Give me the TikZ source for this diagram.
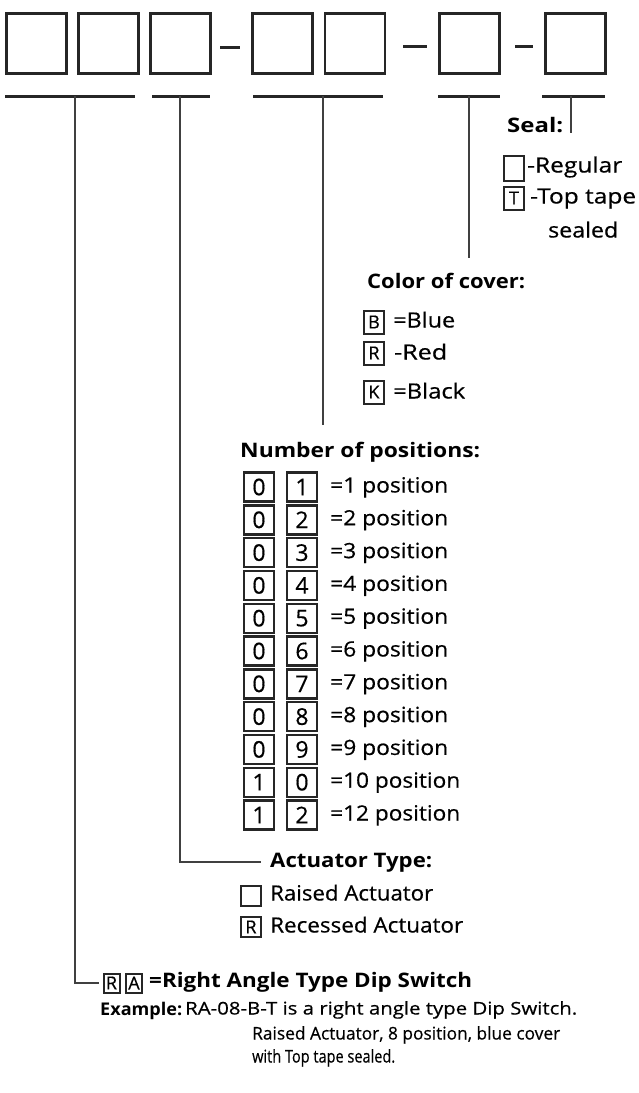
\documentclass[tikz,border=0pt]{standalone}
\usepackage{fontspec}
\setmainfont{Open Sans}
\newfontfamily\heavyreg[FakeBold=0.5]{Open Sans}
\newcommand{\fitw}[2]{\resizebox{#1}{\height}{#2}}
\begin{document}
\begin{tikzpicture}[x=1pt,y=-1pt,
  bigbox/.style={draw=black!85, line width=2.6pt, minimum width=60pt, minimum height=60pt, inner sep=0pt},
  kbox/.style={draw=black!85, line width=2pt, inner sep=0pt, font=\heavyreg\fontsize{18}{18}\selectfont},
  nbox/.style={kbox, line width=2.4pt, minimum width=30pt, minimum height=29pt, font=\heavyreg\fontsize{23}{23}\selectfont},
  sbox/.style={kbox, minimum width=20pt, minimum height=23pt},
  lbl/.style={anchor=west, inner sep=0pt, text height=15pt, text depth=4pt, font=\heavyreg\fontsize{21}{21}\selectfont},
  slbl/.style={lbl, font=\heavyreg\fontsize{21}{21}\selectfont},
  head/.style={lbl, font=\bfseries\fontsize{20}{20}\selectfont},
  exl/.style={lbl, text height=13pt, font=\heavyreg\fontsize{17.5}{17.5}\selectfont},
  uline/.style={line width=3pt, black!85},
  conn/.style={line width=2pt, black!75},
]
\useasboundingbox (0,0) rectangle (639,1093);
% top code boxes
\node[bigbox] (b1) at (36.5,43.5) {};
\node[bigbox] (b2) at (108.5,43.5) {};
\node[bigbox] (b3) at (180.5,43.5) {};
\node[bigbox] (b4) at (282.5,43.5) {};
\node[bigbox] (b5) at (355,43.5) {};
\node[bigbox] (b6) at (469.5,43.5) {};
\node[bigbox] (b7) at (575.5,43.5) {};
\draw[uline] (220,47) -- (240,47);
\draw[uline] (403,46) -- (427,46);
\draw[uline] (515,46) -- (533,46);
% underlines
\draw[uline] (5,96) -- (135,96);
\draw[uline] (152,96) -- (210,96);
\draw[uline] (253,96) -- (383,96);
\draw[uline] (438,96) -- (500,96);
\draw[uline] (542,96) -- (605,96);
\coordinate (t1) at (75,96);
\coordinate (t2) at (180,96);
\coordinate (t3) at (323,96);
\coordinate (t4) at (469,96);
\coordinate (t5) at (571,96);
\coordinate (e3) at (323,425);
\coordinate (e4) at (469,258);
\coordinate (e5) at (571,133);
% Seal
\node[head] (sealh) at (507,127) {\fitw{56pt}{Seal:}};
\node[sbox, minimum height=25pt] (s1) at (514,168.5) {};
\node[slbl] (s1t) at (527,167) {\fitw{95pt}{-Regular}};
\node[sbox] (s2) at (514,198) {T};
\node[slbl] (s2t) at (530,198) {\fitw{106pt}{-Top tape}};
\node[slbl] (s3t) at (548,232) {\fitw{70pt}{sealed}};
% Color of cover
\node[head] (colh) at (367,283) {\fitw{158pt}{Color of cover:}};
\node[sbox] (cB) at (374,322) {B};
\node[lbl] (cBt) at (393,322) {\fitw{62pt}{=Blue}};
\node[sbox] (cR) at (374,353) {R};
\node[lbl] (cRt) at (394,354) {\fitw{53pt}{-Red}};
\node[sbox] (cK) at (374,392) {K};
\node[lbl] (cKt) at (393,393) {\fitw{72pt}{=Black}};
% Number of positions
\node[head] (numh) at (240,452) {\fitw{240pt}{Number of positions:}};
\foreach \a/\b/\t/\w [count=\i] in {0/1/=1 position/118,0/2/=2 position/118,0/3/=3 position/118,0/4/=4 position/118,0/5/=5 position/118,0/6/=6 position/118,0/7/=7 position/118,0/8/=8 position/118,0/9/=9 position/118,1/0/=10 position/130,1/2/=12 position/130}{
  \node[nbox] (na\i) at (259,{487+32.8*(\i-1)}) {\a};
  \node[nbox] (nb\i) at (302,{487+32.8*(\i-1)}) {\b};
  \node[lbl] (nt\i) at (330,{487+32.8*(\i-1)}) {\fitw{\w pt}{\t}};
}
% Actuator type
\node[head] (acth) at (270,862) {\fitw{162pt}{Actuator Type:}};
\node[sbox, minimum height=20pt] (a1) at (251,895.5) {};
\node[lbl] (a1t) at (270,895) {\fitw{163pt}{Raised Actuator}};
\node[sbox, minimum height=20pt] (a2) at (251,927) {R};
\node[lbl] (a2t) at (270,927) {\fitw{193pt}{Recessed Actuator}};
% Right angle
\node[kbox, minimum width=16pt, minimum height=19pt] (ra1) at (111.5,983) {R};
\node[kbox, minimum width=16pt, minimum height=19pt] (ra2) at (134,983) {A};
\node[head] (rat) at (149,982) {\fitw{323pt}{=Right Angle Type Dip Switch}};
% Example
\node[head, font=\bfseries\fontsize{17.5}{17.5}\selectfont] (exh) at (100,1010) {\fitw{82pt}{Example:}};
\node[exl] (ex1) at (185,1010) {\fitw{392pt}{RA-08-B-T is a right angle type Dip Switch.}};
\node[exl] (ex2) at (252,1035) {\fitw{308pt}{Raised Actuator, 8 position, blue cover}};
\node[exl] (ex3) at (252,1058) {\fitw{143pt}{with Top tape sealed.}};
% connectors
\draw[conn] (t1) |- ([xshift=-4pt]ra1.west);
\draw[conn] (t2) |- ([xshift=-9pt]acth.west);
\draw[conn] (t3) -- (e3);
\draw[conn] (t4) -- (e4);
\draw[conn] (t5) -- (e5);
\end{tikzpicture}
\end{document}
